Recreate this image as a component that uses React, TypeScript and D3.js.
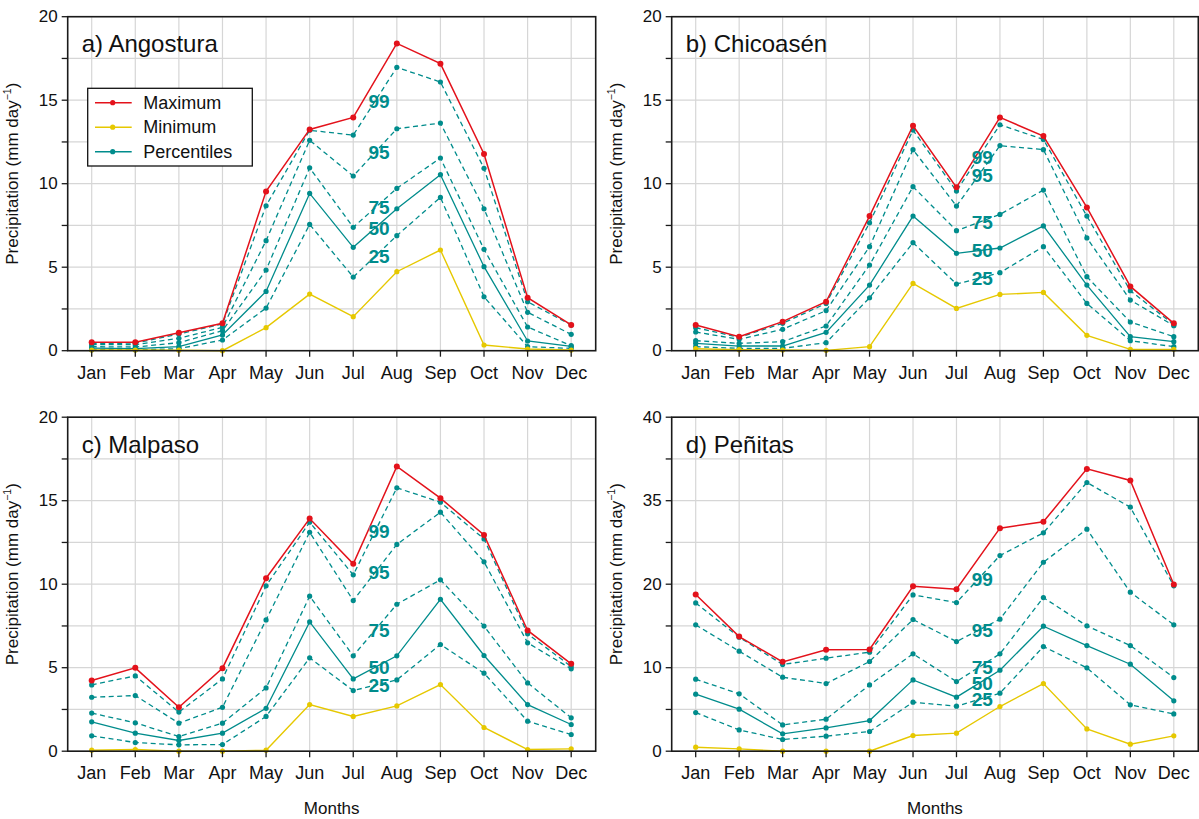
import React, { useEffect, useRef } from "react";
import * as d3 from "d3";

const MONTHS = ["Jan", "Feb", "Mar", "Apr", "May", "Jun", "Jul", "Aug", "Sep", "Oct", "Nov", "Dec"];
const PCT_NAMES = ["99", "95", "75", "50", "25"];

// a) Angostura
const A_MAX = [0.5, 0.5, 1.08, 1.64, 9.54, 13.25, 13.97, 18.4, 17.19, 11.78, 3.17, 1.54];
const A_MIN = [0.04, 0.04, 0.03, 0.0, 1.38, 3.39, 2.04, 4.73, 6.03, 0.34, 0.1, 0.04];
const A_P99 = [0.44, 0.45, 1.0, 1.6, 8.68, 13.2, 12.91, 16.97, 16.09, 10.92, 2.93, 1.54];
const A_P95 = [0.36, 0.36, 0.74, 1.4, 6.59, 12.6, 10.46, 13.29, 13.63, 8.5, 2.3, 0.98];
const A_P75 = [0.24, 0.22, 0.48, 1.2, 4.83, 10.95, 7.39, 9.72, 11.54, 6.07, 1.42, 0.3];
const A_P50 = [0.15, 0.12, 0.24, 0.94, 3.55, 9.42, 6.19, 8.5, 10.54, 5.03, 0.58, 0.26];
const A_P25 = [0.06, 0.05, 0.12, 0.64, 2.55, 7.56, 4.41, 6.89, 9.18, 3.23, 0.24, 0.14];

// b) Chicoasén
const B_MAX = [1.54, 0.84, 1.74, 2.93, 8.06, 13.47, 9.78, 13.97, 12.85, 8.58, 3.85, 1.64];
const B_MIN = [0.12, 0.06, 0.04, 0.02, 0.24, 4.03, 2.53, 3.37, 3.49, 0.92, 0.08, 0.08];
const B_P99 = [1.38, 0.8, 1.64, 2.83, 7.66, 13.21, 9.56, 13.53, 12.65, 8.06, 3.59, 1.56];
const B_P95 = [1.12, 0.68, 1.28, 2.4, 6.23, 12.04, 8.66, 12.28, 12.04, 6.75, 3.03, 1.5];
const B_P75 = [0.6, 0.44, 0.54, 1.48, 5.13, 9.82, 7.19, 8.16, 9.62, 4.43, 1.72, 0.84];
const B_P50 = [0.44, 0.28, 0.28, 1.1, 3.93, 8.06, 5.83, 6.15, 7.47, 3.93, 0.84, 0.54];
const B_P25 = [0.24, 0.14, 0.14, 0.48, 3.17, 6.47, 3.99, 4.67, 6.23, 2.83, 0.6, 0.24];

// c) Malpaso
const C_MAX = [4.23, 4.99, 2.63, 4.97, 10.36, 13.93, 11.22, 17.05, 15.15, 12.95, 7.23, 5.23];
const C_MIN = [0.06, 0.1, 0.0, 0.0, 0.06, 2.79, 2.08, 2.71, 3.99, 1.42, 0.1, 0.14];
const C_P99 = [3.97, 4.51, 2.34, 4.33, 9.9, 13.71, 10.56, 15.77, 14.91, 12.71, 7.03, 5.07];
const C_P95 = [3.23, 3.33, 1.68, 2.63, 7.86, 13.11, 9.02, 12.38, 14.31, 11.34, 6.49, 4.93];
const C_P75 = [2.28, 1.7, 0.88, 1.68, 3.79, 9.28, 5.71, 8.8, 10.26, 7.49, 4.09, 2.0];
const C_P50 = [1.76, 1.08, 0.64, 1.08, 2.57, 7.74, 4.33, 5.71, 9.1, 5.73, 2.79, 1.6];
const C_P25 = [0.92, 0.52, 0.38, 0.4, 2.08, 5.59, 3.63, 4.27, 6.39, 4.67, 1.8, 1.0];

// d) Peñitas
const D_MAX = [18.76, 13.73, 10.7, 12.14, 12.18, 19.76, 19.4, 26.71, 27.47, 33.81, 32.42, 19.96];
const D_MIN = [0.48, 0.28, 0.0, 0.0, 0.0, 1.88, 2.16, 5.35, 8.1, 2.67, 0.84, 1.84];
const D_P99 = [17.76, 13.65, 10.38, 11.14, 11.86, 18.72, 17.8, 23.43, 26.15, 32.18, 29.22, 19.8];
const D_P95 = [15.13, 11.98, 8.86, 8.1, 10.74, 15.77, 13.13, 15.81, 22.63, 26.59, 19.04, 15.13];
const D_P75 = [8.62, 6.87, 3.15, 3.83, 7.94, 11.66, 8.34, 11.66, 18.4, 15.01, 12.65, 8.82];
const D_P50 = [6.83, 5.03, 2.08, 2.79, 3.67, 8.54, 6.47, 9.7, 14.97, 12.65, 10.42, 6.03];
const D_P25 = [4.63, 2.55, 1.4, 1.8, 2.36, 5.87, 5.39, 6.95, 12.53, 9.98, 5.55, 4.47];

// y-axis ticks
const Y_TICKS_20 = [0, 5, 10, 15, 20];
const Y_LABELS_20 = ["0", "5", "10", "15", "20"];
const Y_MINOR_20 = [0, 2.5, 5, 7.5, 10, 12.5, 15, 17.5, 20];
const Y_TICKS_40 = [0, 10, 20, 30, 40];
const Y_LABELS_40 = ["0", "10", "20", "35", "40"];
const Y_MINOR_40 = [0, 5, 10, 15, 20, 25, 30, 35, 40];

const TITLES = ["a) Angostura", "b) Chicoasén", "c) Malpaso", "d) Peñitas"];
const LEGEND_LABELS = ["Maximum", "Minimum", "Percentiles"];

const RED = "#e3121b";
const YELLOW = "#e6c800";
const TEAL = "#008c8c";
const GRID = "#d6d6d6";
const FONT = "'Liberation Sans', Arial, Helvetica, sans-serif";

type Panel = {
  title: string;
  left: number;
  top: number;
  width: number;
  height: number;
  yMax: number;
  yTicks: number[];
  yLabels: string[];
  yMinor: number[];
  max: number[];
  min: number[];
  pcts: number[][];
  legend: boolean;
};

const PANELS: Panel[] = [
  { title: TITLES[0], left: 67.7, top: 16.7, width: 528, height: 334, yMax: 20, yTicks: Y_TICKS_20, yLabels: Y_LABELS_20, yMinor: Y_MINOR_20, max: A_MAX, min: A_MIN, pcts: [A_P99, A_P95, A_P75, A_P50, A_P25], legend: true },
  { title: TITLES[1], left: 671.7, top: 16.7, width: 526.6, height: 334, yMax: 20, yTicks: Y_TICKS_20, yLabels: Y_LABELS_20, yMinor: Y_MINOR_20, max: B_MAX, min: B_MIN, pcts: [B_P99, B_P95, B_P75, B_P50, B_P25], legend: false },
  { title: TITLES[2], left: 67.7, top: 417.2, width: 528, height: 334, yMax: 20, yTicks: Y_TICKS_20, yLabels: Y_LABELS_20, yMinor: Y_MINOR_20, max: C_MAX, min: C_MIN, pcts: [C_P99, C_P95, C_P75, C_P50, C_P25], legend: false },
  { title: TITLES[3], left: 671.7, top: 417.2, width: 526.6, height: 334, yMax: 40, yTicks: Y_TICKS_40, yLabels: Y_LABELS_40, yMinor: Y_MINOR_40, max: D_MAX, min: D_MIN, pcts: [D_P99, D_P95, D_P75, D_P50, D_P25], legend: false },
];

function drawPanel(root: d3.Selection<SVGSVGElement, unknown, null, undefined>, p: Panel) {
  const g = root.append("g").attr("transform", `translate(${p.left},${p.top})`);
  const x = d3.scalePoint<string>().domain(MONTHS).range([24, p.width - 24.5]);
  const y = d3.scaleLinear().domain([0, p.yMax]).range([p.height, 0]);

  // grid
  g.append("g")
    .selectAll("line")
    .data(p.yMinor)
    .join("line")
    .attr("x1", 0).attr("x2", p.width)
    .attr("y1", (d) => y(d)).attr("y2", (d) => y(d))
    .attr("stroke", GRID).attr("stroke-width", 1.2);
  g.append("g")
    .selectAll("line")
    .data(MONTHS)
    .join("line")
    .attr("x1", (d) => x(d)!).attr("x2", (d) => x(d)!)
    .attr("y1", 0).attr("y2", p.height)
    .attr("stroke", GRID).attr("stroke-width", 1.2);

  const line = d3.line<number>().x((_, i) => x(MONTHS[i])!).y((d) => y(d));

  const drawSeries = (vals: number[], color: string, dashed: boolean, r: number, w: number) => {
    g.append("path")
      .attr("d", line(vals)!)
      .attr("fill", "none")
      .attr("stroke", color)
      .attr("stroke-width", w)
      .attr("stroke-dasharray", dashed ? "5,3.5" : null);
    g.append("g")
      .selectAll("circle")
      .data(vals)
      .join("circle")
      .attr("cx", (_, i) => x(MONTHS[i])!)
      .attr("cy", (d) => y(d))
      .attr("r", r)
      .attr("fill", color);
  };

  p.pcts.forEach((vals, k) => drawSeries(vals, TEAL, PCT_NAMES[k] !== "50", 2.6, 1.3));
  drawSeries(p.min, YELLOW, false, 2.6, 1.4);
  drawSeries(p.max, RED, false, 3, 1.5);

  // percentile labels at mid of Jul-Aug segment
  const xm = (x("Jul")! + x("Aug")!) / 2 + 4;
  p.pcts.forEach((vals, k) => {
    const ym = (y(vals[6]) + y(vals[7])) / 2;
    g.append("text")
      .attr("x", xm)
      .attr("y", ym)
      .attr("text-anchor", "middle")
      .attr("dominant-baseline", "central")
      .attr("font-family", FONT)
      .attr("font-weight", "bold")
      .attr("font-size", 19)
      .attr("fill", TEAL)
      .text(PCT_NAMES[k]);
  });

  // frame
  g.append("rect")
    .attr("x", 0).attr("y", 0)
    .attr("width", p.width).attr("height", p.height)
    .attr("fill", "none").attr("stroke", "#1a1a1a").attr("stroke-width", 1.6);

  // y ticks
  g.append("g")
    .selectAll("line")
    .data(p.yMinor)
    .join("line")
    .attr("x1", -6).attr("x2", 0)
    .attr("y1", (d) => y(d)).attr("y2", (d) => y(d))
    .attr("stroke", "#1a1a1a").attr("stroke-width", 1.3);
  g.append("g")
    .selectAll("text")
    .data(p.yTicks)
    .join("text")
    .attr("x", -10)
    .attr("y", (d) => y(d))
    .attr("text-anchor", "end")
    .attr("dominant-baseline", "central")
    .attr("font-family", FONT)
    .attr("font-size", 17)
    .attr("fill", "#111")
    .text((_, i) => p.yLabels[i]);

  // x ticks
  g.append("g")
    .selectAll("line")
    .data(MONTHS)
    .join("line")
    .attr("x1", (d) => x(d)!).attr("x2", (d) => x(d)!)
    .attr("y1", p.height).attr("y2", p.height + 6)
    .attr("stroke", "#1a1a1a").attr("stroke-width", 1.3);
  g.append("g")
    .selectAll("text")
    .data(MONTHS)
    .join("text")
    .attr("x", (d) => x(d)!)
    .attr("y", p.height + 28)
    .attr("text-anchor", "middle")
    .attr("font-family", FONT)
    .attr("font-size", 18)
    .attr("fill", "#111")
    .text((d) => d);

  // title
  g.append("text")
    .attr("x", 14)
    .attr("y", 35.5)
    .attr("font-family", FONT)
    .attr("font-size", 24)
    .attr("fill", "#111")
    .text(p.title);

  // y label
  const yl = g.append("text")
    .attr("transform", `translate(${-50},${p.height / 2 - 10}) rotate(-90)`)
    .attr("text-anchor", "middle")
    .attr("font-family", FONT)
    .attr("font-size", 17)
    .attr("fill", "#111");
  yl.append("tspan").text("Precipitation (mm day");
  yl.append("tspan").attr("font-size", 10.5).attr("dy", -7).text("−1");
  yl.append("tspan").attr("dy", 7).text(")");

  // x label
  if (p.top > 100) {
    g.append("text")
      .attr("x", p.width / 2)
      .attr("y", p.height + 63)
      .attr("text-anchor", "middle")
      .attr("font-family", FONT)
      .attr("font-size", 17)
      .attr("fill", "#111")
      .text("Months");
  }

  if (p.legend) {
    const lg = g.append("g").attr("transform", "translate(20,71.6)");
    lg.append("rect")
      .attr("x", 0).attr("y", 0).attr("width", 164.6).attr("height", 77.7)
      .attr("fill", "#fff").attr("stroke", "#111").attr("stroke-width", 1.3);
    const colors = [RED, YELLOW, TEAL];
    LEGEND_LABELS.forEach((lab, i) => {
      const cy = 14.4 + i * 24.5;
      lg.append("line")
        .attr("x1", 7.3).attr("x2", 44)
        .attr("y1", cy).attr("y2", cy)
        .attr("stroke", colors[i]).attr("stroke-width", 1.4);
      lg.append("circle").attr("cx", 25).attr("cy", cy).attr("r", 2.6).attr("fill", colors[i]);
      lg.append("text")
        .attr("x", 55.6)
        .attr("y", cy)
        .attr("dominant-baseline", "central")
        .attr("font-family", FONT)
        .attr("font-size", 18)
        .attr("fill", "#111")
        .text(lab);
    });
  }
}

export default function App() {
  const ref = useRef<SVGSVGElement>(null);
  useEffect(() => {
    const svg = d3.select(ref.current!);
    svg.selectAll("*").remove();
    PANELS.forEach((p) => drawPanel(svg as any, p));
  }, []);
  return (
    <svg
      ref={ref}
      width={1199}
      height={819}
      style={{ position: "absolute", left: 0, top: 0, background: "#fff" }}
    />
  );
}
